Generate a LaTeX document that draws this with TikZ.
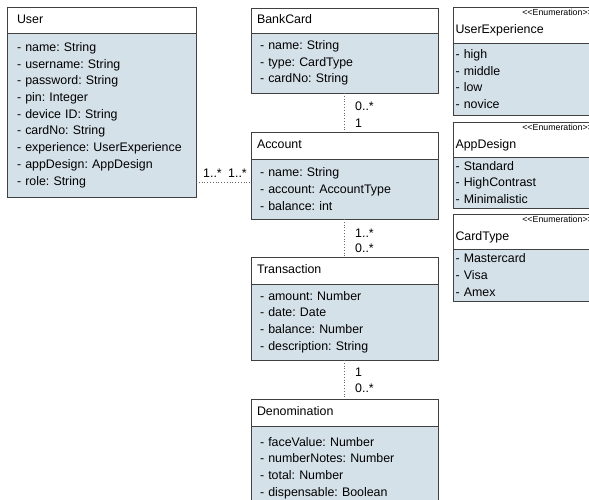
\documentclass[tikz,border=0pt]{standalone}
\usepackage{fontspec}
\setmainfont{Liberation Sans}
\newfontfamily\stereofont{Liberation Sans}
\usepackage{xcolor}
\usepackage{tikz}
\definecolor{attrblue}{RGB}{213,225,233}
\definecolor{boxgray}{RGB}{64,64,64}
\definecolor{shadegray}{RGB}{125,125,125}
\usetikzlibrary{positioning,shadows}
\frenchspacing
\hyphenpenalty=10000

\begin{document}
\begin{tikzpicture}[x=1pt, y=-1pt,
  every node/.style={font=\fontsize{12.4}{16.7}\selectfont},
  boxbase/.style={draw=boxgray, line width=0.8pt, anchor=north west, outer sep=0pt,
    inner xsep=6pt, inner ysep=0pt, align=left,
    drop shadow={shadow xshift=1.2pt, shadow yshift=-1.2pt, fill=shadegray, opacity=1}},
  head/.style={boxbase, fill=white, text height=9pt, text depth=2.6pt},
  enumhead/.style={head, minimum height=36pt, text height=18pt, text depth=0pt},
  attrs/.style={boxbase, fill=attrblue},
  mult/.style={inner sep=0pt, anchor=west},
  stereo/.style={font=\stereofont\fontsize{8.8}{9}\selectfont, inner sep=0pt, anchor=north east},
  assoc/.style={draw=boxgray!80, dotted, line width=0.8pt}]
\path[use as bounding box, clip] (0,0) rectangle (589,500);

% User class
\node[head, inner xsep=10pt, text width=169pt, minimum height=26pt] (user) at (7,7) {User};
\node[attrs, inner xsep=10pt, text width=169pt, minimum height=164pt] (user-a) at (user.south west)
  {- name: String\\- username: String\\- password: String\\- pin: Integer\\- device ID: String\\
   - cardNo: String\\- experience: UserExperience\\- appDesign: AppDesign\\- role: String};

% Middle column
\node[head, text width=175pt, minimum height=25pt] (bank) at (251,8) {BankCard};
\node[attrs, inner xsep=9pt, text width=169pt, minimum height=60pt] (bank-a) at (bank.south west)
  {- name: String\\- type: CardType\\- cardNo: String};

\node[head, text width=175pt, minimum height=27pt] (acct) at (251,132) {Account};
\node[attrs, inner xsep=9pt, text width=169pt, minimum height=60pt] (acct-a) at (acct.south west)
  {- name: String\\- account: AccountType\\- balance: int};

\node[head, text width=175pt, minimum height=27pt] (trans) at (251,257) {Transaction};
\node[attrs, inner xsep=9pt, text width=169pt, minimum height=76pt] (trans-a) at (trans.south west)
  {- amount: Number\\- date: Date\\- balance: Number\\- description: String};

\node[head, text width=175pt, minimum height=27pt] (denom) at (251,399) {Denomination};
\node[attrs, inner xsep=9pt, text width=169pt, minimum height=84pt] (denom-a) at (denom.south west)
  {- faceValue: Number\\- numberNotes: Number\\- total: Number\\- dispensable: Boolean};

% Enumerations
\node[enumhead, inner xsep=2.5pt, text width=145pt] (uexp) at (453,7) {UserExperience};
\node[stereo] (uexp-st) at ([xshift=-10pt, yshift=-2pt]uexp.north east) {<<Enumeration>>};
\node[attrs, inner xsep=2.5pt, text width=145pt, minimum height=72pt] (uexp-a) at (uexp.south west)
  {- high\\- middle\\- low\\- novice};

\node[enumhead, inner xsep=2.5pt, text width=145pt, minimum height=35pt] (adsgn) at (453,122) {AppDesign};
\node[stereo] (adsgn-st) at ([xshift=-10pt, yshift=-2pt]adsgn.north east) {<<Enumeration>>};
\node[attrs, inner xsep=2.5pt, text width=145pt, minimum height=51pt] (adsgn-a) at (adsgn.south west)
  {- Standard\\- HighContrast\\- Minimalistic};

\node[enumhead, inner xsep=2.5pt, text width=145pt, minimum height=35pt] (ctype) at (453,214) {CardType};
\node[stereo] (ctype-st) at ([xshift=-10pt, yshift=-2pt]ctype.north east) {<<Enumeration>>};
\node[attrs, inner xsep=2.5pt, text width=145pt, minimum height=52pt] (ctype-a) at (ctype.south west)
  {- Mastercard\\- Visa\\- Amex};

% Associations
\draw[assoc] (user-a.east |- acct-a.176) -- (acct-a.176);
\draw[assoc] (bank-a.south) -- (acct.north);
\draw[assoc] (acct-a.south) -- (trans.north);
\draw[assoc] (trans-a.south) -- (denom.north);

% Multiplicities
\node[mult] (m-ua1) at (203,173) {1..*};
\node[mult] (m-ua2) at (228,173) {1..*};
\node[mult] (m-ba1) at (355,106) {0..*};
\node[mult] (m-ba2) at (355,123) {1};
\node[mult] (m-at1) at (355,233) {1..*};
\node[mult] (m-at2) at (355,248) {0..*};
\node[mult] (m-td1) at (355,372) {1};
\node[mult] (m-td2) at (355,388) {0..*};
\end{tikzpicture}
\end{document}
